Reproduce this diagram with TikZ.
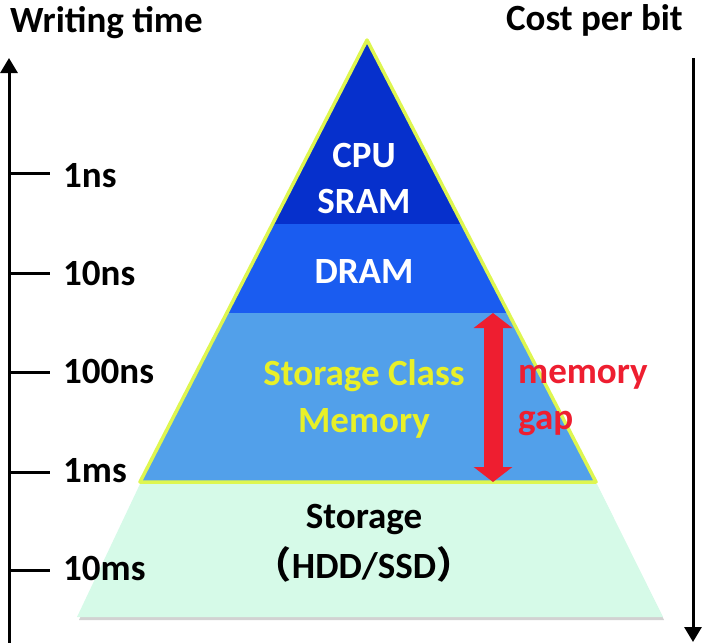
\documentclass[tikz,border=0pt]{standalone}
\usepackage{fontspec}
\setmainfont{Carlito}
\newfontfamily\cjk{Noto Sans CJK SC}
\usepackage{xcolor}
\usetikzlibrary{arrows.meta}

\definecolor{sramblue}{RGB}{6,48,204}
\definecolor{dramblue}{RGB}{26,92,240}
\definecolor{scmblue}{RGB}{82,160,234}
\definecolor{storgreen}{RGB}{214,250,232}
\definecolor{glowyellow}{RGB}{222,246,80}
\definecolor{scmyellow}{RGB}{232,240,40}
\definecolor{gapred}{RGB}{238,30,48}

\begin{document}
\begin{tikzpicture}[x=1pt,y=-1pt,
  lbl/.style={font=\fontsize{37}{44}\selectfont\bfseries, inner sep=0pt, anchor=base},
  axisarrow/.style={line width=3pt, -{Triangle[width=17pt,length=15pt]}},
  gaparrow/.style={draw=gapred, line width=19pt,
    {Triangle[width=38pt,length=15pt]}-{Triangle[width=38pt,length=15pt]}}]
\useasboundingbox (0,0) rectangle (702,643);

% pyramid
\fill[gray!35] (140,486)--(597,486)--(664,620)--(79,620)--cycle;
\draw[fill=storgreen, draw=none] (140,484)--(597,484)--(663,617)--(77,617)--cycle;
\draw[fill=sramblue, draw=none] (367,40)--(462.3,224)--(272.5,224)--cycle;
\draw[fill=dramblue, draw=none] (272.5,224)--(462.3,224)--(508.4,313)--(226.8,313)--cycle;
\draw[fill=scmblue, draw=none] (226.8,313)--(508.4,313)--(596,482)--(140,482)--cycle;
\draw[glowyellow, line width=3.5pt, line join=round] (140,482)--(367,40)--(596,482)--cycle;

% axes
\coordinate (ltop) at (9,58);
\coordinate (lbot) at (9,643);
\coordinate (rtop) at (693,58);
\coordinate (rbot) at (693,642);
\draw[axisarrow] (lbot) -- (ltop);
\draw[axisarrow] (rtop) -- (rbot);

\draw[line width=3pt] (9,173)--(50,173);
\draw[line width=3pt] (9,273)--(50,273);
\draw[line width=3pt] (9,372)--(50,372);
\draw[line width=3pt] (9,472)--(50,472);
\draw[line width=3pt] (9,570)--(50,570);

\node[lbl, anchor=base west] (wtime) at (10,32) {Writing time};
\node[lbl, anchor=base east] (cost) at (683,30) {Cost per bit};

\node[lbl, anchor=base west] (t1ns) at (63,187) {1ns};
\node[lbl, anchor=base west] (t10ns) at (63,285) {10ns};
\node[lbl, anchor=base west] (t100ns) at (63,383) {100ns};
\node[lbl, anchor=base west] (t1ms) at (63,482) {1ms};
\node[lbl, anchor=base west] (t10ms) at (63,580) {10ms};

% levels
\node[lbl, white] (cpu) at (364,167) {CPU};
\node[lbl, white] (sram) at (364,213) {SRAM};
\node[lbl, white] (dram) at (364,283) {DRAM};
\node[lbl, scmyellow] (scm) at (364,385) {Storage Class};
\node[lbl, scmyellow] (scmmem) at (364,432) {Memory};
\node[lbl] (stor) at (364,528) {Storage};
\node[lbl] (hdd) at (364,578) {{\cjk （}HDD/SSD{\cjk ）}};

% memory gap
\coordinate (gaptop) at (493,313);
\coordinate (gapbot) at (493,482);
\draw[gaparrow] (gaptop) -- (gapbot);
\node[lbl, gapred, anchor=base west] (gapmem) at (518,383) {memory};
\node[lbl, gapred, anchor=base west] (gapgap) at (518,429) {gap};

\end{tikzpicture}
\end{document}
